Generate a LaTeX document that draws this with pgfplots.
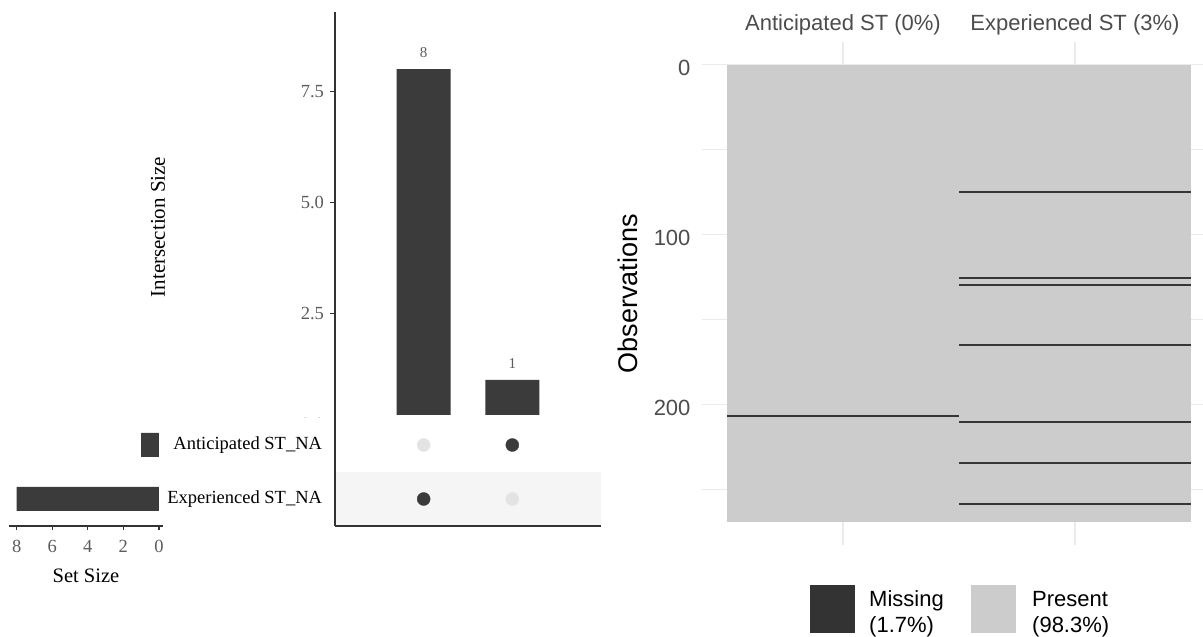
\documentclass[border=0pt]{standalone}
\usepackage{pgfplots}
\pgfplotsset{compat=1.18}
\usepackage{fontspec}
\setmainfont{Liberation Serif}
\newfontfamily\arial{Liberation Sans}
\newcommand{\fs}[1]{\fontsize{#1}{#1}\selectfont}
\definecolor{upbar}{HTML}{3B3B3B}
\definecolor{upempty}{HTML}{E3E3E3}
\definecolor{upshade}{HTML}{F5F5F5}
\definecolor{uptick}{HTML}{5C5C5C}
\definecolor{upaxis}{HTML}{333333}
\definecolor{vmtile}{HTML}{CCCCCC}
\definecolor{vmmiss}{HTML}{363636}
\definecolor{vmgrid}{HTML}{EBEBEB}
\definecolor{vmtext}{HTML}{4D4D4D}
\begin{document}
\begin{tikzpicture}
\path[use as bounding box, fill=white] (0,0) rectangle (1203pt,637pt);

% ---------- Intersection size bars ----------
\begin{axis}[
  at={(335pt,212.7pt)}, anchor=south west,
  scale only axis, width=266pt, height=412.3pt,
  xmin=0, xmax=3, ymin=0, ymax=9.286,
  axis x line=none, axis y line=left,
  y axis line style={-, draw=upaxis, line width=1.6pt},
  ytick={0,2.5,5,7.5},
  yticklabel style={/pgf/number format/.cd, fixed, fixed zerofill, precision=1, /tikz/.cd, font=\fs{18.5}, text=uptick, xshift=-2.5pt},
  /pgf/number format/assume math mode=true,
  tick align=outside, major tick length=5pt,
  ytick style={draw=upaxis, line width=1.2pt},
  clip=false,
  ybar, bar width=54pt,
  nodes near coords,
  every node near coord/.append style={font=\fs{15}, text=uptick, yshift=8pt},
]
\addplot[fill=upbar, draw=none] coordinates {(1,8) (2,1)};
\end{axis}

\fill[white] (200pt,218.5pt) rectangle (333.8pt,192pt);
\fill[white] (336.2pt,221.5pt) rectangle (601pt,192pt);

% ---------- Matrix ----------
\begin{axis}[
  at={(335pt,111pt)}, anchor=south west,
  scale only axis, width=266pt, height=108pt,
  xmin=0, xmax=3, ymin=0.5, ymax=2.5,
  axis x line=bottom, axis y line=left,
  axis line style={-, draw=upaxis, line width=1.6pt},
  axis on top,
  xtick=\empty, ytick={1,2}, yticklabels={Experienced ST\_NA, Anticipated ST\_NA},
  major tick length=0pt,
  yticklabel style={font=\fs{18.5}, text=black, xshift=-9.5pt},
  clip=false,
]
\addplot[fill=upshade, draw=none] coordinates {(0,0.5) (3,0.5) (3,1.5) (0,1.5)} -- cycle;
\addplot[only marks, mark=*, mark size=6.5pt, color=upempty] coordinates {(1,2) (2,1)};
\addplot[only marks, mark=*, mark size=6.5pt, color=upbar] coordinates {(1,1) (2,2)};
\end{axis}

% ---------- Set size ----------
\begin{axis}[
  at={(9pt,111pt)}, anchor=south west,
  scale only axis, width=154pt, height=108pt,
  xmin=-0.23, xmax=8.43, ymin=0.5, ymax=2.5, x dir=reverse,
  axis x line=bottom, axis y line=none,
  x axis line style={-, draw=upaxis, line width=1.6pt},
  xtick={0,2,4,6,8},
  tick align=outside, major tick length=4pt,
  xtick style={draw=upaxis, line width=1.2pt},
  xticklabel style={font=\fs{18.5}, text=uptick, yshift=-7pt},
  /pgf/number format/assume math mode=true,
  xlabel={Set Size},
  xlabel style={at={(axis description cs:0.5,-0.463)}, anchor=center, font=\fs{20.5}},
  xbar, bar width=24pt,
  clip=false,
]
\addplot[fill=upbar, draw=none] coordinates {(1,2) (8,1)};
\end{axis}

\node[rotate=90, font=\fs{21}] at (158pt,410pt) {Intersection Size};

% ---------- vis_miss ----------
\begin{axis}[
  at={(702pt,92pt)}, anchor=south west,
  scale only axis, width=501pt, height=503pt,
  xmin=0.392, xmax=2.552, ymin=-13.1, ymax=282.8, y dir=reverse,
  axis line style={draw=none},
  major tick length=0pt, minor tick length=0pt,
  xtick={1,2}, xticklabels={Anticipated ST (0\%), Experienced ST (3\%)},
  xticklabel pos=upper,
  xticklabel style={yshift=3.5pt},
  ytick={0,100,200}, minor ytick={50,150,250},
  grid=both,
  major grid style={draw=vmgrid, line width=1.1pt},
  minor grid style={draw=vmgrid, line width=0.7pt},
  ticklabel style={font=\arial\fs{22}, text=vmtext},
  yticklabel style={xshift=-8pt, yshift=-3.5pt},
  /pgf/number format/assume math mode=true,
  ylabel={Observations},
  every axis y label/.style={at={(axis description cs:-0.1477,0.5)}, rotate=90, anchor=center, font=\arial\fs{27}},
  clip=false,
]
\addplot[fill=vmtile, draw=none] coordinates {(0.5,0.5) (2.5,0.5) (2.5,269.5) (0.5,269.5)} -- cycle;
\addplot[draw=vmmiss, line width=2pt] coordinates {(0.5,207) (1.5,207)};
\addplot[draw=vmmiss, line width=2pt] coordinates {(1.5,75) (2.5,75)};
\addplot[draw=vmmiss, line width=2pt] coordinates {(1.5,125.5) (2.5,125.5)};
\addplot[draw=vmmiss, line width=2pt] coordinates {(1.5,130) (2.5,130)};
\addplot[draw=vmmiss, line width=2pt] coordinates {(1.5,165) (2.5,165)};
\addplot[draw=vmmiss, line width=2pt] coordinates {(1.5,210.5) (2.5,210.5)};
\addplot[draw=vmmiss, line width=2pt] coordinates {(1.5,234.5) (2.5,234.5)};
\addplot[draw=vmmiss, line width=2pt] coordinates {(1.5,258.5) (2.5,258.5)};
\end{axis}

% legend
\fill[vmmiss!95!black] (810pt,4pt) rectangle (855pt,52pt);
\fill[vmtile] (971pt,4pt) rectangle (1016pt,52pt);
\node[anchor=base west, inner sep=0pt, font=\arial\fs{22}] at (869pt,30.3pt) {Missing};
\node[anchor=base west, inner sep=0pt, font=\arial\fs{22}] at (869pt,4.7pt) {(1.7\%)};
\node[anchor=base west, inner sep=0pt, font=\arial\fs{22}] at (1032pt,30.3pt) {Present};
\node[anchor=base west, inner sep=0pt, font=\arial\fs{22}] at (1032pt,4.7pt) {(98.3\%)};
\end{tikzpicture}
\end{document}
